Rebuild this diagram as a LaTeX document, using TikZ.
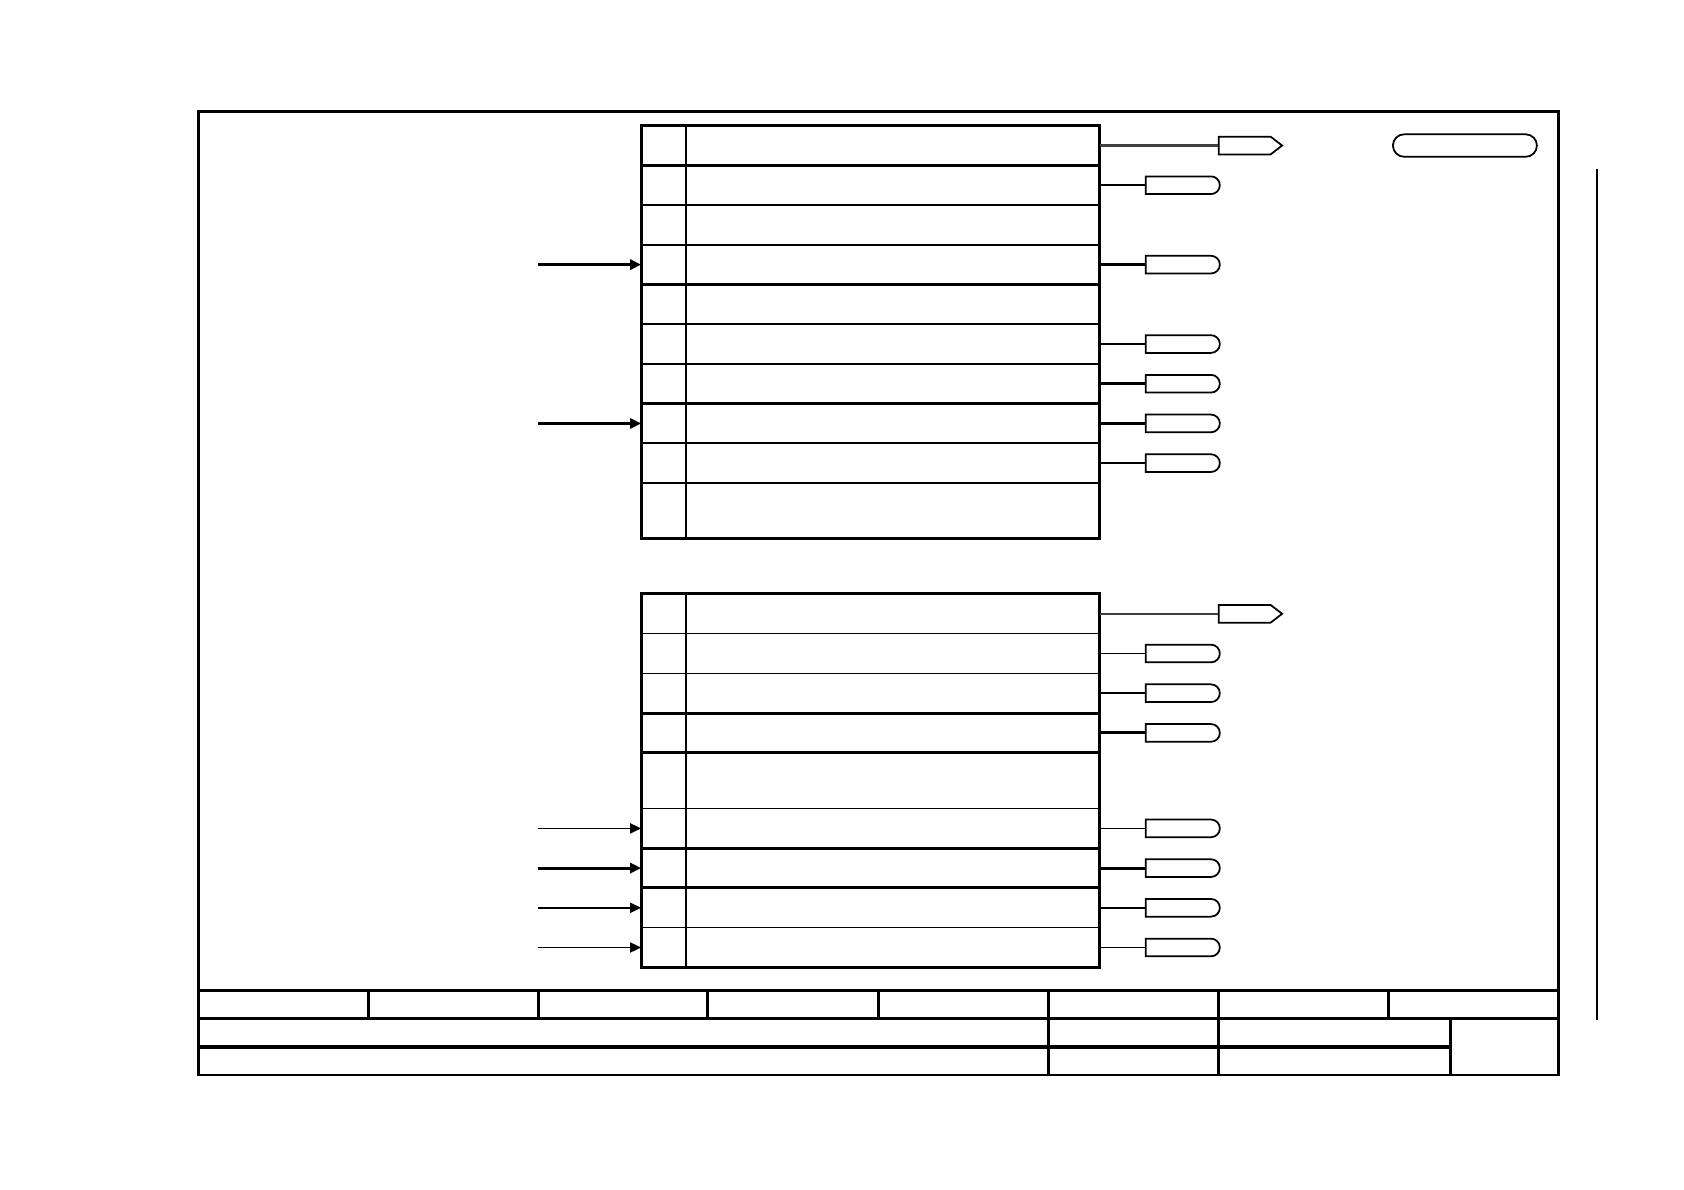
\documentclass[tikz,border=0pt]{standalone}
\usepackage{tikz}
\usetikzlibrary{arrows.meta, positioning, calc, shapes.misc, shapes.symbols}
\tikzset{
  tblrow/.style   = {draw, line width=0.45pt, minimum width=45.86mm,
                     minimum height=3.97mm, inner sep=0pt, outer sep=0pt},
  tblrowhi/.style = {tblrow, minimum height=5.58mm},
  tagout/.style   = {draw, line width=0.5pt, rounded rectangle,
                     rounded rectangle west arc=none,
                     minimum width=7.41mm, minimum height=1.77mm, inner sep=0pt},
  tagsig/.style   = {draw, line width=0.5pt, signal, signal to=east,
                     signal pointer angle=75,
                     minimum width=6.34mm, minimum height=1.77mm, inner sep=0pt},
  stampbox/.style = {draw, line width=0.5pt, rounded rectangle,
                     minimum width=14.4mm, minimum height=2.25mm, inner sep=0pt},
  sepline/.style  = {line width=0.85pt},
  wire/.style     = {line width=0.45pt},
  wiremid/.style  = {line width=0.6pt, draw=black!75},
  wirebold/.style = {line width=0.85pt},
  feed/.style     = {-{Triangle[length=1.1mm, width=1.0mm]}, line width=0.45pt},
  feedbold/.style = {feed, line width=0.85pt},
}

\begin{document}
\begin{tikzpicture}[x=0.1074mm, y=-0.1074mm]
    \useasboundingbox (0,0) rectangle (1568,1108);

    % Sheet frame and title block
    \draw[line width=0.75pt] (185,104) rectangle (1451,1001);
    \draw[sepline] (185,922) -- (1451,922) (185,948) -- (1451,948);
    \draw[line width=1.1pt] (185,975) -- (1351,975);
    \foreach \x in {343,501,659,818,1293}
      \draw[sepline] (\x,922) -- (\x,948);
    \foreach \x in {976,1135}
      \draw[sepline] (\x,922) -- (\x,1001);
    \draw[sepline] (1351,948) -- (1351,1001);
    \draw[line width=0.6pt] (1487,157) -- (1487,950);
    \node[stampbox] (stamp) at (1364,135.5) {};

    % Upper table
    \node[tblrow]                     (u1)  at (810.5,135.5) {};
    \node[tblrow,   below=0pt of u1]  (u2)  {};
    \node[tblrow,   below=0pt of u2]  (u3)  {};
    \node[tblrow,   below=0pt of u3]  (u4)  {};
    \node[tblrow,   below=0pt of u4]  (u5)  {};
    \node[tblrow,   below=0pt of u5]  (u6)  {};
    \node[tblrow,   below=0pt of u6]  (u7)  {};
    \node[tblrow,   below=0pt of u7]  (u8)  {};
    \node[tblrow,   below=0pt of u8]  (u9)  {};
    \node[tblrowhi, below=0pt of u9]  (u10) {};
    \draw[wire] ($(u1.north west)+(42,0)$) -- ($(u10.south west)+(42,0)$);
    \draw[sepline] (u1.north west) rectangle (u10.south east);
    \draw[sepline] (u2.north west) -- (u2.north east)
                   (u5.north west) -- (u5.north east)
                   (u8.north west) -- (u8.north east);

    % Upper table : outputs
    \node[tagsig, right=11.81mm of u1] (tu1) {};
    \node[tagout, right=4.51mm of u2]  (tu2) {};
    \node[tagout, right=4.51mm of u4]  (tu4) {};
    \node[tagout, right=4.51mm of u6]  (tu6) {};
    \node[tagout, right=4.51mm of u7]  (tu7) {};
    \node[tagout, right=4.51mm of u8]  (tu8) {};
    \node[tagout, right=4.51mm of u9]  (tu9) {};
    \draw[wiremid]  (u1.east) -- (tu1.west);
    \draw[wire]     (u2.east) -- (tu2.west);
    \draw[wirebold] (u4.east) -- (tu4.west);
    \draw[wire]     (u6.east) -- (tu6.west);
    \draw[wirebold] (u7.east) -- (tu7.west);
    \draw[wirebold] (u8.east) -- (tu8.west);
    \draw[wire]     (u9.east) -- (tu9.west);

    % Upper table : inputs
    \coordinate[left=10.31mm of u4] (iu4);
    \coordinate[left=10.31mm of u8] (iu8);
    \draw[feedbold] (iu4) -- (u4.west);
    \draw[feedbold] (iu8) -- (u8.west);

    % Lower table
    \node[tblrow]                     (l1) at (810.5,571.5) {};
    \node[tblrow,   below=0pt of l1]  (l2) {};
    \node[tblrow,   below=0pt of l2]  (l3) {};
    \node[tblrow,   below=0pt of l3]  (l4) {};
    \node[tblrowhi, below=0pt of l4]  (l5) {};
    \node[tblrow,   below=0pt of l5]  (l6) {};
    \node[tblrow,   below=0pt of l6]  (l7) {};
    \node[tblrow,   below=0pt of l7]  (l8) {};
    \node[tblrow,   below=0pt of l8]  (l9) {};
    \draw[wire] ($(l1.north west)+(42,0)$) -- ($(l9.south west)+(42,0)$);
    \draw[sepline] (l1.north west) rectangle (l9.south east);
    \draw[sepline] (l4.north west) -- (l4.north east)
                   (l5.north west) -- (l5.north east)
                   (l7.north west) -- (l7.north east)
                   (l8.north west) -- (l8.north east);

    % Lower table : outputs
    \node[tagsig, right=11.81mm of l1] (tl1) {};
    \node[tagout, right=4.51mm of l2]  (tl2) {};
    \node[tagout, right=4.51mm of l3]  (tl3) {};
    \node[tagout, right=4.51mm of l4]  (tl4) {};
    \node[tagout, right=4.51mm of l6]  (tl6) {};
    \node[tagout, right=4.51mm of l7]  (tl7) {};
    \node[tagout, right=4.51mm of l8]  (tl8) {};
    \node[tagout, right=4.51mm of l9]  (tl9) {};
    \draw[wiremid]  (l1.east) -- (tl1.west);
    \draw[wire]     (l2.east) -- (tl2.west);
    \draw[wire]     (l3.east) -- (tl3.west);
    \draw[wirebold] (l4.east) -- (tl4.west);
    \draw[wire]     (l6.east) -- (tl6.west);
    \draw[wirebold] (l7.east) -- (tl7.west);
    \draw[wire]     (l8.east) -- (tl8.west);
    \draw[wire]     (l9.east) -- (tl9.west);

    % Lower table : inputs
    \coordinate[left=10.31mm of l6] (il6);
    \coordinate[left=10.31mm of l7] (il7);
    \coordinate[left=10.31mm of l8] (il8);
    \coordinate[left=10.31mm of l9] (il9);
    \draw[feed]     (il6) -- (l6.west);
    \draw[feedbold] (il7) -- (l7.west);
    \draw[feed]     (il8) -- (l8.west);
    \draw[feed]     (il9) -- (l9.west);
\end{tikzpicture}
\end{document}
